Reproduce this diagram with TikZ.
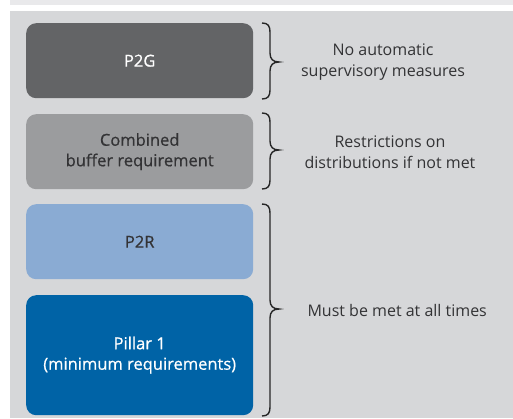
\documentclass[tikz,border=0pt]{standalone}
\usepackage{fontspec}
\setmainfont{Open Sans}
\newfontfamily\labelfont[FakeBold=0.6]{Open Sans}
\definecolor{bgpanel}{HTML}{D6D7D9}
\definecolor{topband}{HTML}{E9E9EB}
\definecolor{ptwog}{HTML}{636466}
\definecolor{combined}{HTML}{9B9C9E}
\definecolor{ptwor}{HTML}{8AABD3}
\definecolor{pillar}{HTML}{0063A6}
\definecolor{txtdark}{HTML}{333335}
\tikzset{
  x=1pt, y=-1pt,
  layer/.style={rounded corners=10pt, minimum width=227pt, anchor=north west,
    inner sep=0pt, align=center, font=\labelfont\fontsize{16.5}{20.5}\selectfont},
  note/.style={align=center, text=txtdark, font=\fontsize{16}{20.5}\selectfont},
  bracket/.style={line width=1.4pt, black!85},
}
% curly bracket from (x,y1) to (x,y2), opening left, tip at y=#3
\newcommand{\curlybrace}[3]{%
  \draw[bracket] (262,#1) .. controls (268,#1) and (270,#1+3) .. (270,#1+9)
    -- (270,#3-9) .. controls (270,#3-3) and (273,#3) .. (279,#3)
    .. controls (273,#3) and (270,#3+3) .. (270,#3+9)
    -- (270,#2-9) .. controls (270,#2-3) and (268,#2) .. (262,#2);}
\begin{document}
\begin{tikzpicture}
\useasboundingbox (0,0) rectangle (513,418);
\fill[white] (0,0) rectangle (513,418);
\fill[topband] (10,0) rectangle (513,4.5);
\fill[bgpanel] (10,10.5) rectangle (513,418);

\node[layer, fill=ptwog, text=white, minimum height=75pt] (p2g) at (26,23) {P2G};
\node[layer, fill=combined, text=txtdark, minimum height=75pt] (cbr) at (26,114)
  {Combined\\buffer requirement};
\node[layer, fill=ptwor, text=txtdark, minimum height=75pt] (p2r) at (26,204) {P2R};
\node[layer, fill=pillar, text=white, minimum height=120pt] (p1) at (26,295)
  {Pillar 1\\(minimum requirements)};

\curlybrace{23}{99}{62}
\curlybrace{113}{189}{150}
\curlybrace{204}{416}{309}

\node[note] (n1) at (383,62) {No automatic\\supervisory measures};
\node[note] (n2) at (390,152) {Restrictions on\\distributions if not met};
\node[note, anchor=west] (n3) at (304,310) {Must be met at all times};
\end{tikzpicture}
\end{document}
